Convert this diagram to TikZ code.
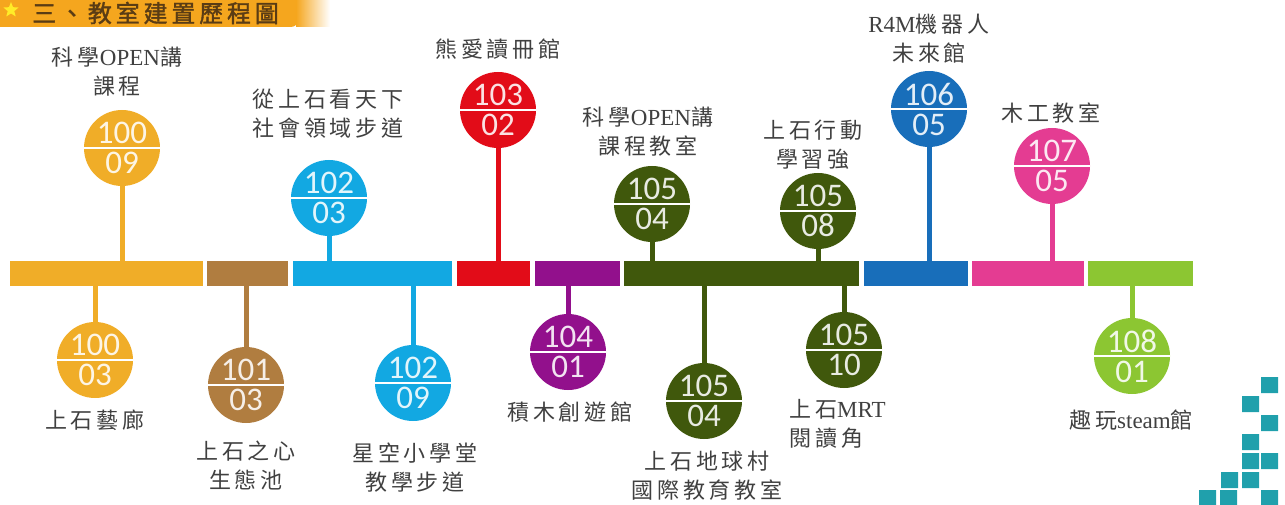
\documentclass[tikz,border=0pt]{standalone}
\usepackage{fontspec}
\setmainfont{Liberation Serif}
\newfontfamily\cjk[LetterSpace=18]{Noto Sans CJK TC}
\newfontfamily\cjktitle[LetterSpace=16,FakeBold=1.5]{Noto Sans CJK TC}
\newfontfamily\numfont{Carlito}
\usetikzlibrary{positioning,shapes.geometric}

\definecolor{yorange}{RGB}{240,173,40}
\definecolor{ybrown}{RGB}{176,125,64}
\definecolor{ycyan}{RGB}{18,168,226}
\definecolor{yred}{RGB}{226,12,24}
\definecolor{ypurple}{RGB}{146,16,140}
\definecolor{ydkgreen}{RGB}{64,88,12}
\definecolor{yblue}{RGB}{24,110,186}
\definecolor{ypink}{RGB}{228,60,146}
\definecolor{ylime}{RGB}{140,198,50}
\definecolor{lblgray}{RGB}{64,64,64}
\definecolor{banner}{RGB}{245,166,30}
\definecolor{titlebrown}{RGB}{90,60,20}
\definecolor{staryellow}{RGB}{255,236,40}
\definecolor{deco}{RGB}{32,160,172}

\newcommand\latn[1]{{\rmfamily\fontsize{23}{29}\selectfont #1}}

\begin{document}
\begin{tikzpicture}
      [x=1pt, y=-1pt,
        seg/.style={rectangle, fill=#1, minimum height=25pt, inner sep=0pt},
        stamp/.style={circle, fill=#1, minimum size=76pt, inner sep=0pt, text=#1!12!white, align=center,
          font=\numfont\fontsize{33}{30}\selectfont,
          path picture={\draw[white, line width=2.5pt] (path picture bounding box.west) -- (path picture bounding box.east);}},
        stem/.style={draw=#1, line width=5pt},
        lbl/.style={font=\cjk\fontsize{22}{29}\selectfont, text=lblgray, align=center, inner sep=0pt}
      ]
      \useasboundingbox (0,0) rectangle (1285,505);
      % title banner
      \fill[banner, rounded corners=7pt] (-10,-12) rectangle (298,27);
      \shade[left color=banner, right color=white] (296,-12) rectangle (330,27);
      \node[star, star points=5, star point ratio=2.3, fill=staryellow, minimum size=16pt, inner sep=0pt] (star) at (11,10) {};
      \node[font=\cjktitle\fontsize{24}{24}\selectfont, text=titlebrown, anchor=west, inner sep=0pt] (title) at (32,13) {三、教室建置歷程圖};
      % timeline bar
      \node[seg=yorange, minimum width=193pt] (s1) at (106.5,273.5) {};
      \node[seg=ybrown, minimum width=81pt] (s2) at (247.5,273.5) {};
      \node[seg=ycyan, minimum width=159pt] (s3) at (372.5,273.5) {};
      \node[seg=yred, minimum width=73pt] (s4) at (493.5,273.5) {};
      \node[seg=ypurple, minimum width=85pt] (s5) at (577.5,273.5) {};
      \node[seg=ydkgreen, minimum width=235pt] (s6) at (741.5,273.5) {};
      \node[seg=yblue, minimum width=104pt] (s7) at (916,273.5) {};
      \node[seg=ypink, minimum width=112pt] (s8) at (1028,273.5) {};
      \node[seg=ylime, minimum width=105pt] (s9) at (1140.5,273.5) {};
      % stamps above the bar
      \node[stamp=yorange] (n10009) at (122,148) {100\\09};
      \node[stamp=ycyan] (n10203) at (329,198) {102\\03};
      \node[stamp=yred] (n10302) at (498,110) {103\\02};
      \node[stamp=ydkgreen] (n10504a) at (652,204) {105\\04};
      \node[stamp=ydkgreen] (n10508) at (818,211) {105\\08};
      \node[stamp=yblue] (n10605) at (929,109) {106\\05};
      \node[stamp=ypink] (n10705) at (1052,166) {107\\05};
      % stamps below the bar
      \node[stamp=yorange] (n10003) at (95,360) {100\\03};
      \node[stamp=ybrown] (n10103) at (246,385) {101\\03};
      \node[stamp=ycyan] (n10209) at (413,383) {102\\09};
      \node[stamp=ypurple] (n10401) at (568,352) {104\\01};
      \node[stamp=ydkgreen] (n10504b) at (704,401) {105\\04};
      \node[stamp=ydkgreen] (n10510) at (844,350) {105\\10};
      \node[stamp=ylime] (n10801) at (1132,356) {108\\01};
      % stems
      \draw[stem=yorange] (n10009.south) -- (n10009.south |- s1.north);
      \draw[stem=ycyan] (n10203.south) -- (n10203.south |- s3.north);
      \draw[stem=yred] (n10302.south) -- (n10302.south |- s4.north);
      \draw[stem=ydkgreen] (n10504a.south) -- (n10504a.south |- s6.north);
      \draw[stem=ydkgreen] (n10508.south) -- (n10508.south |- s6.north);
      \draw[stem=yblue] (n10605.south) -- (n10605.south |- s7.north);
      \draw[stem=ypink] (n10705.south) -- (n10705.south |- s8.north);
      \draw[stem=yorange] (n10003.north |- s1.south) -- (n10003.north);
      \draw[stem=ybrown] (n10103.north |- s2.south) -- (n10103.north);
      \draw[stem=ycyan] (n10209.north |- s3.south) -- (n10209.north);
      \draw[stem=ypurple] (n10401.north |- s5.south) -- (n10401.north);
      \draw[stem=ydkgreen] (n10504b.north |- s6.south) -- (n10504b.north);
      \draw[stem=ydkgreen] (n10510.north |- s6.south) -- (n10510.north);
      \draw[stem=ylime] (n10801.north |- s9.south) -- (n10801.north);
      % labels
      \node[lbl] (l10009) at (117,71.5) {科學\latn{OPEN}講\\課程};
      \node[lbl] (l10203) at (328,113.5) {從上石看天下\\社會領域步道};
      \node[lbl] (l10302) at (498,49) {熊愛讀冊館};
      \node[lbl] (l10504a) at (648,131.5) {科學\latn{OPEN}講\\課程教室};
      \node[lbl] (l10508) at (813,144.5) {上石行動\\學習強};
      \node[lbl] (l10605) at (929,38.5) {\latn{R4M}機器人\\未來館};
      \node[lbl] (l10705) at (1051,113) {木工教室};
      \node[lbl] (l10003) at (95,420) {上石藝廊};
      \node[lbl] (l10103) at (246,465) {上石之心\\生態池};
      \node[lbl] (l10209) at (415,467.5) {星空小學堂\\教學步道};
      \node[lbl] (l10401) at (570,412) {積木創遊館};
      \node[lbl] (l10504b) at (707,476) {上石地球村\\國際教育教室};
      \node[lbl, align=left, anchor=west] (l10510) at (789,423.5) {上石\latn{MRT}\\閱讀角};
      \node[lbl] (l10801) at (1131,420) {趣玩\latn{steam}館};
      % corner squares
      \fill[deco] (1261,377) rectangle ++(17,16)
        (1242,396) rectangle ++(17,16)
        (1261,415) rectangle ++(17,16)
        (1242,434) rectangle ++(17,16)
        (1242,453) rectangle ++(17,16)
        (1261,453) rectangle ++(17,16)
        (1221,472) rectangle ++(17,16)
        (1242,472) rectangle ++(17,16)
        (1199,490) rectangle ++(17,16)
        (1220,490) rectangle ++(17,16)
        (1261,490) rectangle ++(17,16);
    \end{tikzpicture}
\end{document}
